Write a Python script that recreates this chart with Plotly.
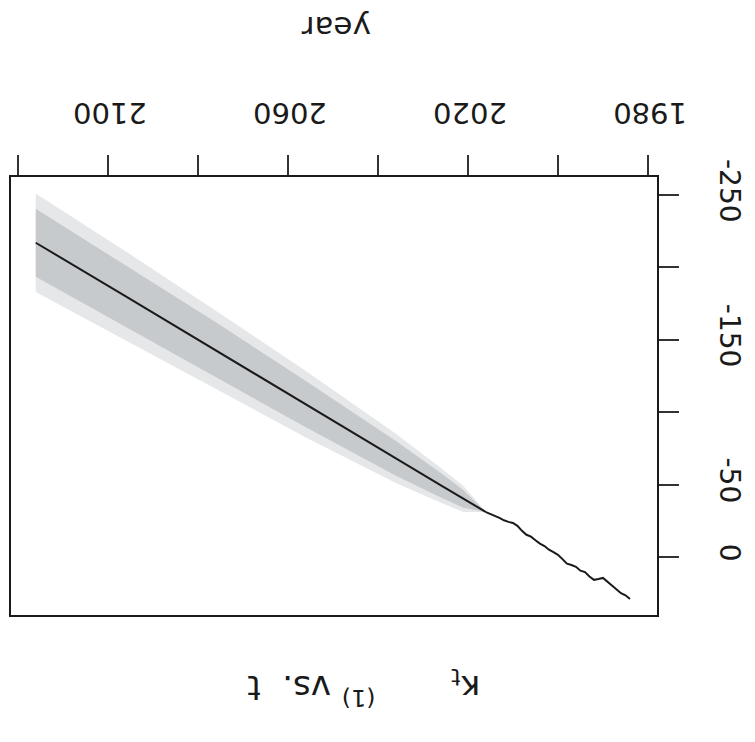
import plotly.graph_objects as go

# ---- data ----
hist_years = list(range(1984, 2017))
hist_kappa = [29, 26.5, 25, 22.5, 20, 17, 14.5, 15.2, 15.8, 13.5, 10.5, 9.5, 6.8,
              5.6, 4.6, 1.5, -1.5, -3.3, -5, -7.5, -9.2, -11.5, -14, -15.3, -18,
              -21.5, -23.5, -24.2, -25.3, -27, -28.3, -29.3, -31]

fc_years = [2016, 2021, 2026, 2036, 2056, 2076, 2096, 2116]
fc_center = [-31, -40, -49.5, -68, -105.5, -143, -180, -217]
dark_upper = [-31, -34, -41, -56, -89.5, -124, -158.5, -193.5]
dark_lower = [-31, -46, -58, -80, -121.5, -162, -201.5, -240.5]
light_upper = [-31, -31, -37.5, -51, -82.5, -116, -149, -183]
light_lower = [-31, -49, -61.5, -85, -128.5, -170, -211, -251]

x_labels = [1980, 2020, 2060, 2100]
x_ticks_every = 20
y_labels = [-250, -150, -50, 0]
y_ticks_every = 50

FONT = "DejaVu Sans"
INK = "#1a1a1a"

fig = go.Figure()

# light (outer) band
fig.add_trace(go.Scatter(
    x=fc_years + fc_years[::-1], y=light_upper + light_lower[::-1],
    fill="toself", fillcolor="#e5e7e9", line=dict(width=0), mode="lines",
    hoverinfo="skip", showlegend=False))
# dark (inner) band
fig.add_trace(go.Scatter(
    x=fc_years + fc_years[::-1], y=dark_upper + dark_lower[::-1],
    fill="toself", fillcolor="#c7cacd", line=dict(width=0), mode="lines",
    hoverinfo="skip", showlegend=False))
# forecast central line
fig.add_trace(go.Scatter(x=fc_years, y=fc_center, mode="lines",
                         line=dict(color=INK, width=2), showlegend=False))
# observed kappa
fig.add_trace(go.Scatter(x=hist_years, y=hist_kappa, mode="lines",
                         line=dict(color=INK, width=2), showlegend=False))

L, R, T, B = 9, 95, 177, 127
W, H = 755, 742
pw, ph = W - L - R, H - T - B

def px_to_paper(xp, yp):
    return (xp - L) / pw, (H - B - yp) / ph

tick_style = dict(ticks="outside", ticklen=20, tickwidth=1.5, tickcolor="#333")

fig.update_layout(
    width=W, height=H,
    margin=dict(l=L, r=R, t=T, b=B, pad=0),
    paper_bgcolor="white", plot_bgcolor="white",
    font=dict(family=FONT, color=INK),
    xaxis=dict(range=[2121.5, 1978.0], side="top",
               tickmode="array", tickvals=x_labels,
               ticktext=[str(v) for v in x_labels],
               **tick_style,
               minor=dict(tickmode="linear", tick0=1980, dtick=x_ticks_every,
                          **tick_style),
               tickangle=-180, tickfont=dict(size=29, family=FONT, color=INK),
               ticklabelstandoff=11, ticklabelshift=-39,
               showline=True, mirror=True, linecolor=INK, linewidth=2,
               showgrid=False, zeroline=False),
    yaxis=dict(range=[40.1, -262.4], side="right",
               tickmode="array", tickvals=y_labels,
               ticktext=[str(v) for v in y_labels],
               **tick_style,
               minor=dict(tickmode="linear", tick0=0, dtick=y_ticks_every,
                          **tick_style),
               tickangle=90, tickfont=dict(size=28, family=FONT, color=INK),
               ticklabelstandoff=30,
               showline=True, mirror=True, linecolor=INK, linewidth=2,
               showgrid=False, zeroline=False),
)

ax, ay = px_to_paper(337, 8)
fig.add_annotation(text="year", x=ax, y=ay, xref="paper", yref="paper",
                   showarrow=False, textangle=180,
                   font=dict(size=31, family=FONT, color=INK))

NB = "&nbsp;"
title = "κ<sub>t</sub>" + NB * 7 + "<sup>(1)</sup>" + NB + "vs." + NB * 2 + "t"
tx, ty = px_to_paper(365, 714)
fig.add_annotation(text=title, x=tx, y=ty, xref="paper", yref="paper",
                   showarrow=False, textangle=180,
                   font=dict(size=34, family=FONT, color=INK))

fig.write_html("out.html")
